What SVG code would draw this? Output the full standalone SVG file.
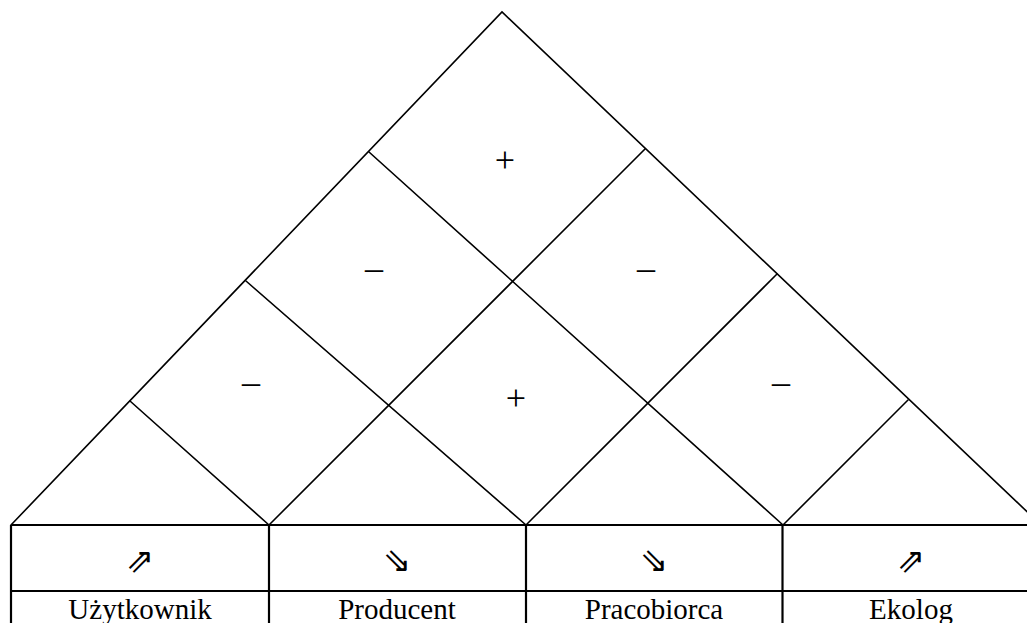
<svg xmlns="http://www.w3.org/2000/svg" width="1027" height="623" viewBox="0 0 1027 623">
  <style>
    .roof { stroke: #000; stroke-width: 1.6; fill: none; stroke-linecap: round; }
    .grid { stroke: #000; stroke-width: 2.2; fill: none; }
    .sign { font-size: 36px; text-anchor: middle; fill: #000; }
    .arrow { font-size: 34px; text-anchor: middle; fill: #000; }
    .label { font-size: 29px; text-anchor: middle; fill: #000; }
  </style>
  <rect width="1027" height="623" fill="#fff"/>

  <!-- correlation roof -->
  <g id="roof">
    <polyline class="roof" points="11,525 502,12 1041,525"/>
    <!-- lines rising to the right from the column boundaries -->
    <line class="roof" x1="269" y1="525" x2="645" y2="149"/>
    <line class="roof" x1="526" y1="525" x2="777" y2="274"/>
    <line class="roof" x1="783" y1="525" x2="908" y2="400"/>
    <!-- lines falling to the right from the left slope -->
    <line class="roof" x1="130" y1="401" x2="269" y2="525"/>
    <line class="roof" x1="246" y1="281" x2="526" y2="525"/>
    <line class="roof" x1="369" y1="152" x2="783" y2="525"/>
  </g>

  <!-- correlation signs -->
  <g id="signs" font-family="'Liberation Serif', 'DejaVu Serif', serif">
    <text class="sign" x="505" y="172">+</text>
    <text class="sign" x="374" y="280">–</text>
    <text class="sign" x="646" y="280">–</text>
    <text class="sign" x="251" y="394">–</text>
    <text class="sign" x="516" y="410">+</text>
    <text class="sign" x="781" y="394">–</text>
  </g>

  <!-- table grid -->
  <g id="table-grid">
    <line class="grid" x1="11" y1="525" x2="1041" y2="525"/>
    <line class="grid" x1="11" y1="591" x2="1041" y2="591"/>
    <line class="grid" x1="11" y1="525" x2="11" y2="640"/>
    <line class="grid" x1="269" y1="525" x2="269" y2="640"/>
    <line class="grid" x1="526" y1="525" x2="526" y2="640"/>
    <line class="grid" x1="782.5" y1="525" x2="782.5" y2="640"/>
  </g>

  <g id="col-uzytkownik">
    <text class="arrow" x="140" y="572" font-family="'DejaVu Sans', sans-serif">⇗</text>
    <text class="label" x="140" y="619" font-family="'Liberation Serif', 'DejaVu Serif', serif">Użytkownik</text>
  </g>
  <g id="col-producent">
    <text class="arrow" x="397" y="572" font-family="'DejaVu Sans', sans-serif">⇘</text>
    <text class="label" x="397" y="619" font-family="'Liberation Serif', 'DejaVu Serif', serif">Producent</text>
  </g>
  <g id="col-pracobiorca">
    <text class="arrow" x="654" y="572" font-family="'DejaVu Sans', sans-serif">⇘</text>
    <text class="label" x="654" y="619" font-family="'Liberation Serif', 'DejaVu Serif', serif">Pracobiorca</text>
  </g>
  <g id="col-ekolog">
    <text class="arrow" x="911" y="572" font-family="'DejaVu Sans', sans-serif">⇗</text>
    <text class="label" x="911" y="619" font-family="'Liberation Serif', 'DejaVu Serif', serif">Ekolog</text>
  </g>
</svg>
